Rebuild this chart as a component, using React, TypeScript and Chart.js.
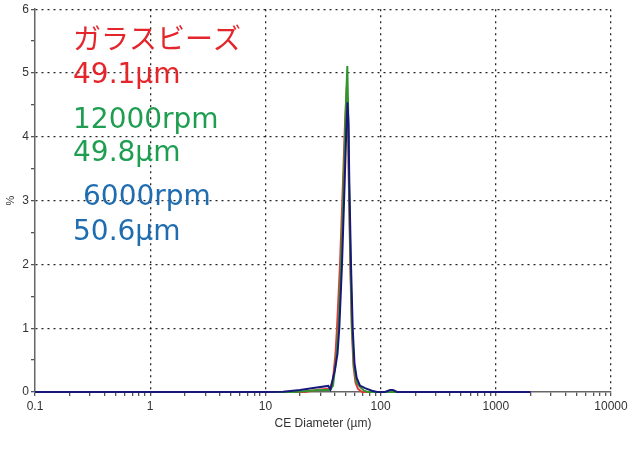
import React, { useEffect, useRef } from "react";
import { Chart, registerables } from "chart.js";

Chart.register(...registerables);

// Axis definitions
const majorTicks = [0.1, 1, 10, 100, 1000, 10000];
const minorMultipliers = [2, 3, 4, 5, 6, 7, 8, 9];
const yMin = 0;
const yMax = 6;
const yStep = 0.5;

// Series: ガラスビーズ (red)
const redDiameter = [0.1, 22.07, 29.79, 36.38, 38.63, 40.59, 41.83, 44.42, 47.16, 49.09, 50.89, 52.12, 52.97, 54.58, 56.23, 58.18, 60.53, 63.64, 68.93, 2000];
const redValue = [0, 0, 0.04, 0.05, 0.2, 0.6, 1.0, 2.0, 3.3, 4.2, 4.8, 4.2, 3.3, 2.0, 1.0, 0.4, 0.15, 0.05, 0, 0];

// Series: 12000rpm (green)
const greenDiameter = [0.1, 18.07, 29.79, 36.38, 38.63, 41.0, 43.1, 45.32, 47.83, 49.58, 51.4, 52.44, 53.18, 54.8, 56.45, 58.77, 61.76, 66.24, 71.75, 77.71, 2000];
const greenValue = [0, 0, 0.03, 0.03, 0.1, 0.5, 1.0, 2.0, 3.3, 4.3, 5.11, 4.3, 3.3, 2.0, 1.0, 0.4, 0.15, 0.08, 0.02, 0, 0];

// Series: 6000rpm (blue)
const blueDiameter = [0.1, 10, 14.22, 19.97, 27.88, 35.16, 36.74, 38.86, 40.19, 42.25, 43.8, 46.23, 48.79, 50.38, 51.61, 52.65, 53.5, 55.35, 57.25, 59.35, 62.0, 66.24, 73.2, 84.21, 93.06, 109.2, 120.7, 128.1, 138.8, 162.8, 2000];
const blueValue = [0, 0, 0.005, 0.03, 0.07, 0.095, 0.04, 0.24, 0.35, 0.6, 1.0, 2.0, 3.3, 4.1, 4.54, 4.2, 3.3, 2.0, 1.0, 0.45, 0.22, 0.1, 0.06, 0.02, 0, 0, 0.03, 0.03, 0, 0, 0];

// Annotation texts
const annotationTexts = ["ガラスビーズ", "49.1µm", "12000rpm", "49.8µm", "6000rpm", "50.6µm"];

const RED_LINE = "#e23a3a";
const GREEN_LINE = "#32962e";
const BLUE_LINE = "#18187a";
const RED_TEXT = "#e4252b";
const GREEN_TEXT = "#1f9e52";
const BLUE_TEXT = "#1f6db0";

const annotationStyle = [
  { x: 73, y: 38, color: RED_TEXT, font: '28px "Noto Sans CJK JP"', baseline: "middle" },
  { x: 73, y: 83, color: RED_TEXT, font: '28px "DejaVu Sans"', baseline: "alphabetic" },
  { x: 73, y: 128, color: GREEN_TEXT, font: '28px "DejaVu Sans"', baseline: "alphabetic" },
  { x: 73, y: 161, color: GREEN_TEXT, font: '28px "DejaVu Sans"', baseline: "alphabetic" },
  { x: 83, y: 205, color: BLUE_TEXT, font: '28px "DejaVu Sans"', baseline: "alphabetic" },
  { x: 73, y: 240, color: BLUE_TEXT, font: '28px "DejaVu Sans"', baseline: "alphabetic" },
];

const toPoints = (xs: number[], ys: number[]) => xs.map((x, i) => ({ x, y: ys[i] }));

const allXTicks: number[] = [];
majorTicks.forEach((m, i) => {
  allXTicks.push(m);
  if (i < majorTicks.length - 1) minorMultipliers.forEach((k) => allXTicks.push(+(m * k).toPrecision(6)));
});
const isMajor = (v: number) => majorTicks.some((m) => Math.abs(m - v) / m < 1e-6);

const annotationPlugin = {
  id: "annotations",
  afterDraw(chart: any) {
    const ctx = chart.ctx;
    ctx.save();
    annotationTexts.forEach((t, i) => {
      const s = annotationStyle[i];
      ctx.font = s.font;
      ctx.fillStyle = s.color;
      ctx.textBaseline = s.baseline;
      ctx.textAlign = "left";
      ctx.fillText(t, s.x, s.y);
    });
    ctx.restore();
  },
};

export default function App() {
  const canvasRef = useRef<HTMLCanvasElement | null>(null);

  useEffect(() => {
    if (!canvasRef.current) return;
    const tickFont = { family: '"Liberation Sans", Arial, sans-serif', size: 12 };
    const chart = new Chart(canvasRef.current, {
      type: "line",
      data: {
        datasets: [
          { label: "6000rpm", data: toPoints(blueDiameter, blueValue), borderColor: BLUE_LINE, borderWidth: 2, pointRadius: 0, tension: 0, clip: 6 } as any,
          { label: "12000rpm", data: toPoints(greenDiameter, greenValue), borderColor: GREEN_LINE, borderWidth: 2, pointRadius: 0, tension: 0, clip: 6 } as any,
          { label: "ガラスビーズ", data: toPoints(redDiameter, redValue), borderColor: RED_LINE, borderWidth: 2, pointRadius: 0, tension: 0, clip: 6 } as any,
        ],
      },
      options: {
        responsive: false,
        animation: false,
        devicePixelRatio: 1,
        layout: { padding: { left: 0, right: 29, top: 8, bottom: 15 } },
        plugins: { legend: { display: false }, tooltip: { enabled: false } },
        scales: {
          x: {
            type: "logarithmic",
            min: 0.1,
            max: 10000,
            afterBuildTicks: (scale: any) => {
              scale.ticks = allXTicks.map((v) => ({ value: v }));
            },
            afterFit: (scale: any) => {
              scale.height = 43;
            },
            ticks: {
              autoSkip: false,
              maxRotation: 0,
              color: "#333",
              font: tickFont,
              padding: 3,
              callback: (v: any) => (isMajor(Number(v)) ? String(Number(v)) : ""),
            },
            grid: {
              color: (c: any) => (c.tick && isMajor(c.tick.value) && c.tick.value > 0.1 ? "rgba(0,0,0,0.85)" : "rgba(0,0,0,0)"),
              lineWidth: 1.3,
              tickColor: "#555",
              tickLength: 4,
              tickBorderDash: [],
            } as any,
            border: { color: "#666", width: 1.5, dash: [2, 4] } as any,
            title: { display: true, text: "CE Diameter (µm)", color: "#333", font: tickFont },
          },
          y: {
            type: "linear",
            min: yMin,
            max: yMax,
            afterFit: (scale: any) => {
              scale.width = 35;
            },
            ticks: {
              stepSize: yStep,
              color: "#333",
              font: tickFont,
              padding: 2,
              callback: (v: any) => (Number.isInteger(Number(v)) ? String(v) : ""),
            },
            grid: {
              color: (c: any) => (c.tick && Number.isInteger(c.tick.value) && c.tick.value > 0 ? "rgba(0,0,0,0.85)" : "rgba(0,0,0,0)"),
              lineWidth: 1.3,
              tickColor: "#555",
              tickLength: 4,
              tickBorderDash: [],
            } as any,
            border: { color: "#666", width: 1.5, dash: [2, 4] } as any,
            title: { display: true, text: "%", color: "#333", font: { family: '"Liberation Sans", Arial, sans-serif', size: 11 } },
          },
        },
      } as any,
      plugins: [annotationPlugin],
    });
    return () => chart.destroy();
  }, []);

  return (
    <div style={{ position: "fixed", left: 0, top: 0, width: 640, height: 450, background: "#fff" }}>
      <canvas ref={canvasRef} width={640} height={450} style={{ width: 640, height: 450 }} />
    </div>
  );
}
